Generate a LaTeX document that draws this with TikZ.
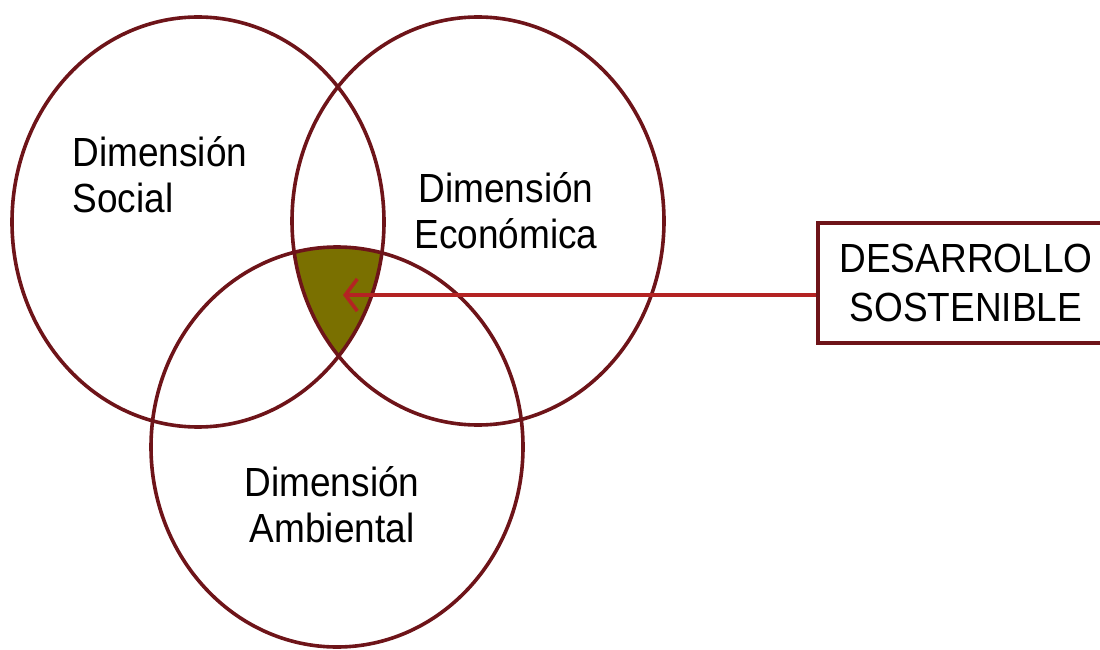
\documentclass[tikz,border=0pt]{standalone}
\usepackage{fontspec}
\setmainfont{Liberation Sans}
\usepackage{tikz}
\usetikzlibrary{arrows.meta}
\definecolor{borde}{RGB}{110,20,25}
\definecolor{oliva}{RGB}{122,112,0}
\definecolor{flecha}{RGB}{180,35,35}

\begin{document}
\begin{tikzpicture}[x=1pt, y=1pt,
    dim/.style = {draw=borde, line width=3.6pt},
    etiqueta/.style = {font=\fontsize{37}{42}\selectfont, yscale=1.1, inner sep=0pt},
    caja/.style = {draw=borde, line width=3.6pt, fill=white, yscale=1.1, minimum width=296pt, minimum height=109pt, align=center, font=\fontsize{37}{45}\selectfont}]
    \useasboundingbox (0,0) rectangle (1100,649);

    % zona comun a las tres dimensiones
    \begin{scope}
        \clip (198,427) ellipse [x radius=186, y radius=205];
        \clip (478,428) ellipse [x radius=186, y radius=204];
        \fill[oliva] (337,202) ellipse [x radius=186, y radius=200];
    \end{scope}

    \draw[dim] (198,427) ellipse [x radius=186, y radius=205];
    \draw[dim] (478,428) ellipse [x radius=186, y radius=204];
    \draw[dim] (337,202) ellipse [x radius=186, y radius=200];

    \node[etiqueta, align=left] (social) at (160,474) {Dimensión\\Social};
    \node[etiqueta, align=center] (economica) at (506,438) {Dimensión\\Económica};
    \node[etiqueta, align=center] (ambiental) at (332,144) {Dimensión\\Ambiental};

    \node[caja] (desarrollo) at (966,366) {DESARROLLO\\SOSTENIBLE};
    \coordinate (punta) at (343,354);

    \draw[flecha, line width=3.6pt, -{Straight Barb[length=12pt, width=32pt]}] (punta -| desarrollo.west) -- (punta);
\end{tikzpicture}
\end{document}
